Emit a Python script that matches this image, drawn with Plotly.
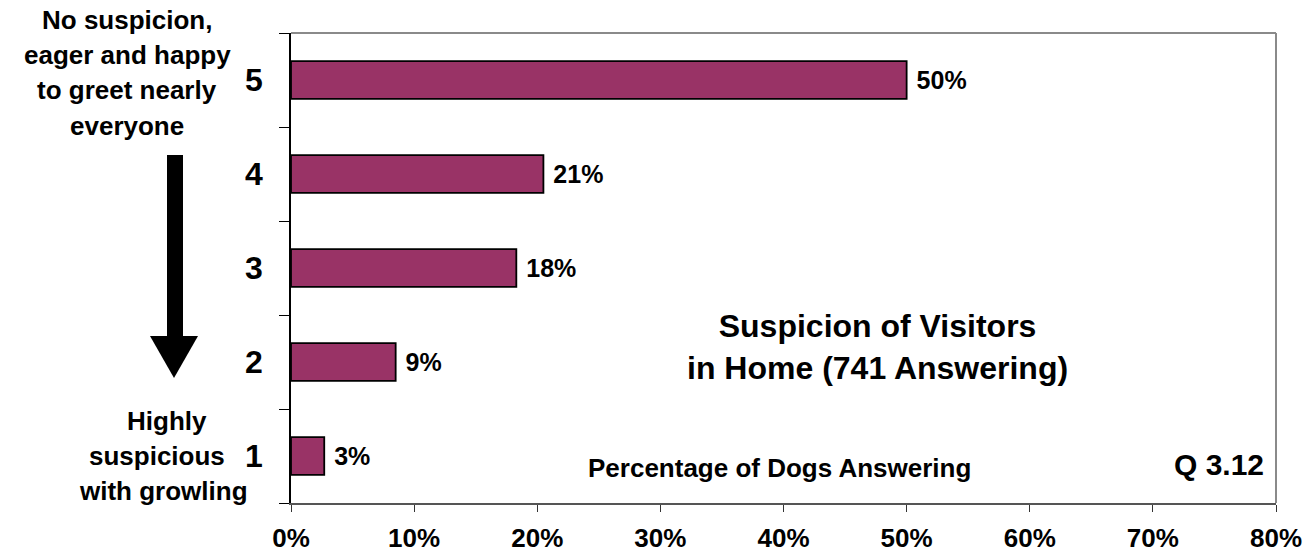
import plotly.graph_objects as go

categories = ["1", "2", "3", "4", "5"]
values = [2.7, 8.5, 18.3, 20.5, 50.0]
bar_labels = ["3%", "9%", "18%", "21%", "50%"]
x_tick_vals = [0, 10, 20, 30, 40, 50, 60, 70, 80]
x_tick_text = ["0%", "10%", "20%", "30%", "40%", "50%", "60%", "70%", "80%"]

W, H = 1309, 556
L, R, T, B = 291, 33, 33, 53
PW, PH = W - L - R, H - T - B
FONT = "Liberation Sans, Arial, sans-serif"

def px(x):
    return (x - L) / PW

def py(y):
    return (H - B - y) / PH

fig = go.Figure()
fig.add_trace(go.Bar(
    x=values, y=categories, orientation="h",
    marker=dict(color="#993366", line=dict(color="black", width=1.8)),
    width=0.4,
    text=bar_labels, texttemplate=" %{text}", textposition="outside",
    textfont=dict(family=FONT, size=25, color="black", weight="bold"),
    cliponaxis=False,
))

shapes = [
    dict(type="line", xref="paper", yref="paper", x0=0, x1=1, y0=1, y1=1,
         line=dict(color="#8a8a8a", width=2)),
    dict(type="line", xref="paper", yref="paper", x0=1, x1=1, y0=0, y1=1,
         line=dict(color="#8a8a8a", width=2)),
    dict(type="rect", xref="paper", yref="paper",
         x0=px(167), x1=px(183), y0=py(340), y1=py(155),
         fillcolor="black", line=dict(width=0)),
    dict(type="path", xref="paper", yref="paper",
         path=f"M {px(150)},{py(336)} L {px(198)},{py(336)} L {px(174)},{py(378)} Z",
         fillcolor="black", line=dict(width=0)),
]

annotations = []
top_lines = ["No suspicion,", "eager and happy", "to greet nearly", "everyone"]
top_y = [20, 55, 90, 126]
for t, yy in zip(top_lines, top_y):
    annotations.append(dict(text=t, xref="paper", yref="paper", x=px(127), y=py(yy),
                            showarrow=False, xanchor="center", yanchor="middle",
                            font=dict(family=FONT, size=26, color="black", weight="bold")))
bot_lines = ["Highly", "suspicious", "with growling"]
bot_x = [167, 157, 163]
bot_y = [421, 456, 491]
for t, xx, yy in zip(bot_lines, bot_x, bot_y):
    annotations.append(dict(text=t, xref="paper", yref="paper", x=px(xx), y=py(yy),
                            showarrow=False, xanchor="center", yanchor="middle",
                            font=dict(family=FONT, size=26, color="black", weight="bold")))
annotations += [
    dict(text="Suspicion of Visitors<br>in Home (741 Answering)", xref="paper", yref="paper",
         x=px(877), y=py(347), showarrow=False, xanchor="center", yanchor="middle",
         font=dict(family=FONT, size=32, color="black", weight="bold")),
    dict(text="Percentage of Dogs Answering", xref="paper", yref="paper",
         x=px(779), y=py(468), showarrow=False, xanchor="center", yanchor="middle",
         font=dict(family=FONT, size=26, color="black", weight="bold")),
    dict(text="Q 3.12", xref="paper", yref="paper",
         x=px(1266), y=py(464), showarrow=False, xanchor="right", yanchor="middle",
         font=dict(family=FONT, size=30, color="black", weight="bold")),
]

fig.update_layout(
    width=W, height=H,
    margin=dict(l=L, r=R, t=T, b=B, pad=0, autoexpand=False),
    paper_bgcolor="white", plot_bgcolor="white",
    showlegend=False,
    shapes=shapes, annotations=annotations,
    xaxis=dict(range=[0, 80], tickvals=x_tick_vals, ticktext=x_tick_text,
               showgrid=False, zeroline=False, showline=True, linecolor="#555555", linewidth=2,
               ticks="outside", ticklen=7, tickcolor="#333333", tickwidth=1,
               tickfont=dict(family=FONT, size=26, color="black", weight="bold"),
               ticklabelstandoff=4, automargin=False),
    yaxis=dict(categoryorder="array", categoryarray=categories,
               showgrid=False, zeroline=False, showline=True, linecolor="black", linewidth=1.5,
               ticks="outside", ticklen=10, tickcolor="black", tickson="boundaries",
               tickfont=dict(family=FONT, size=32, color="black", weight="bold"),
               ticklabelstandoff=20, automargin=False),
)

fig.write_html("out.html", config={"displayModeBar": False},
               post_script="document.body.style.margin='0px';")
